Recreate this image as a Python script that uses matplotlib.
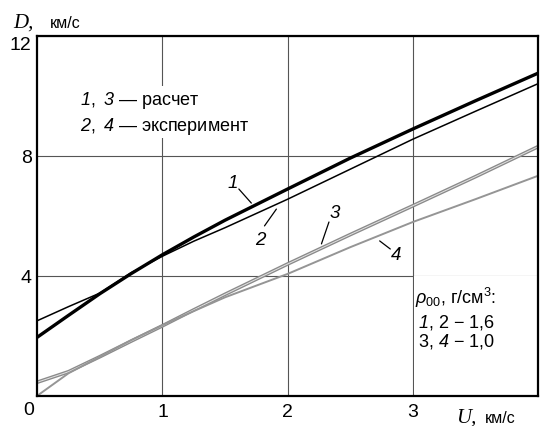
# -*- coding: utf-8 -*-
# Ударная адиабата D(U): расчет и эксперимент для двух плотностей
import matplotlib
matplotlib.use('Agg')
import matplotlib.pyplot as plt
from matplotlib.patches import Rectangle

plt.rcParams['font.family'] = ['Liberation Sans', 'DejaVu Sans']
plt.rcParams['mathtext.fontset'] = 'custom'
plt.rcParams['mathtext.rm'] = 'Liberation Sans'
plt.rcParams['mathtext.it'] = 'Liberation Sans:italic'
# курсивные цифры через \mathsf
plt.rcParams['mathtext.sf'] = 'Liberation Sans:italic'

# массовая скорость U, км/с
U = [0, 0.25, 0.5, 0.75, 1, 1.25, 1.5, 2, 2.5, 3, 3.5, 4]
# 1 - расчет, rho00 = 1,6
D1 = [1.95, 2.68, 3.40, 4.07, 4.70, 5.29, 5.85, 6.89, 7.92, 8.89, 9.83, 10.75]
# 2 - эксперимент, rho00 = 1,6
D2 = [2.50, 2.97, 3.42, 4.10, 4.65, 5.15, 5.60, 6.55, 7.55, 8.55, 9.48, 10.40]
# 3 - расчет, rho00 = 1,0
D3 = [0.45, 0.80, 1.30, 1.82, 2.33, 2.86, 3.38, 4.39, 5.37, 6.33, 7.30, 8.30]
# 4 - эксперимент, rho00 = 1,0
D4 = [0.00, 0.75, 1.30, 1.85, 2.35, 2.82, 3.28, 4.06, 4.95, 5.79, 6.55, 7.33]

x_ticks = [1, 2, 3]
y_ticks = [4, 8, 12]

fig = plt.figure(figsize=(5.41, 4.27), dpi=100)
ax = fig.add_axes([37.3 / 541, 30.3 / 427, 500.7 / 541, 360 / 427])
ax.set_xlim(0, 4)
ax.set_ylim(0, 12)

# сетка
ax.set_axisbelow(True)
ax.set_xticks(x_ticks)
ax.set_yticks(y_ticks)
ax.grid(True, color='#555555', lw=0.8)
ax.tick_params(length=0, labelsize=14, pad=5)
ax.tick_params(axis='y', pad=4)
for s in ax.spines.values():
    s.set_linewidth(1.6)
ax.get_yticklabels()[-1].set_va('top')

# кривые
ax.plot(U, D3, color='#8a8a8a', lw=2.6, zorder=2)
ax.plot(U, D3, color='#e2e2e2', lw=0.7, zorder=2)
ax.plot(U, D4, color='#959595', lw=1.4, zorder=2)
ax.plot(U, D2, color='black', lw=1.1, zorder=3)
ax.plot(U, D1, color='black', lw=2.4, zorder=3)

# номера кривых
lbl = dict(fontsize=13.5, style='italic', ha='center', va='center')
ax.text(1.56, 7.12, '1', **lbl)
ax.text(1.78, 5.22, '2', **lbl)
ax.text(2.375, 6.12, '3', **lbl)
ax.text(2.87, 4.72, '4', **lbl)
lead = dict(arrowstyle='-', lw=0.9, color='black', shrinkA=0, shrinkB=0)
ax.annotate('', xy=(1.71, 6.42), xytext=(1.61, 6.89), arrowprops=lead)
ax.annotate('', xy=(1.91, 6.22), xytext=(1.815, 5.66), arrowprops=lead)
ax.annotate('', xy=(2.27, 5.06), xytext=(2.33, 5.79), arrowprops=lead)
ax.annotate('', xy=(2.735, 5.16), xytext=(2.82, 4.89), arrowprops=lead)

# подписи-легенды
ax.text(0.34, 9.88, r'$\mathsf{1},\ \mathsf{3}$ — расчет', fontsize=13,
        va='center', ha='left', zorder=4,
        bbox=dict(facecolor='white', edgecolor='none', pad=2))
ax.text(0.34, 9.02, r'$\mathsf{2},\ \mathsf{4}$ — эксперимент', fontsize=13,
        va='center', ha='left', zorder=4,
        bbox=dict(facecolor='white', edgecolor='none', pad=2))

ax.add_patch(Rectangle((3.008, 0.06), 0.985, 3.93, facecolor='white',
                       edgecolor='none', zorder=1))
ax.text(3.02, 3.28, r'$\mathit{\rho}_{\mathrm{00}}$, г/см$^{\mathrm{3}}$:',
        fontsize=13, va='center', ha='left', zorder=4)
ax.text(3.04, 2.46, r'$\mathsf{1}$, 2 − 1,6', fontsize=13,
        va='center', ha='left', zorder=4)
ax.text(3.04, 1.83, r'3, $\mathsf{4}$ − 1,0', fontsize=13,
        va='center', ha='left', zorder=4)

# подписи осей
fig.text(29 / 541, 1 - 411 / 427, '0', fontsize=14, ha='center', va='center')
fig.text(13 / 541, 1 - 28 / 427, 'D,', family='Liberation Serif',
         style='italic', fontsize=15, va='baseline')
fig.text(50 / 541, 1 - 28 / 427, 'км/с', fontsize=11.5, va='baseline')
fig.text(456 / 541, 1 - 423 / 427, 'U,', family='Liberation Serif',
         style='italic', fontsize=15, va='baseline')
fig.text(485 / 541, 1 - 423 / 427, 'км/с', fontsize=11.5, va='baseline')

fig.savefig('out.png', dpi=100)
